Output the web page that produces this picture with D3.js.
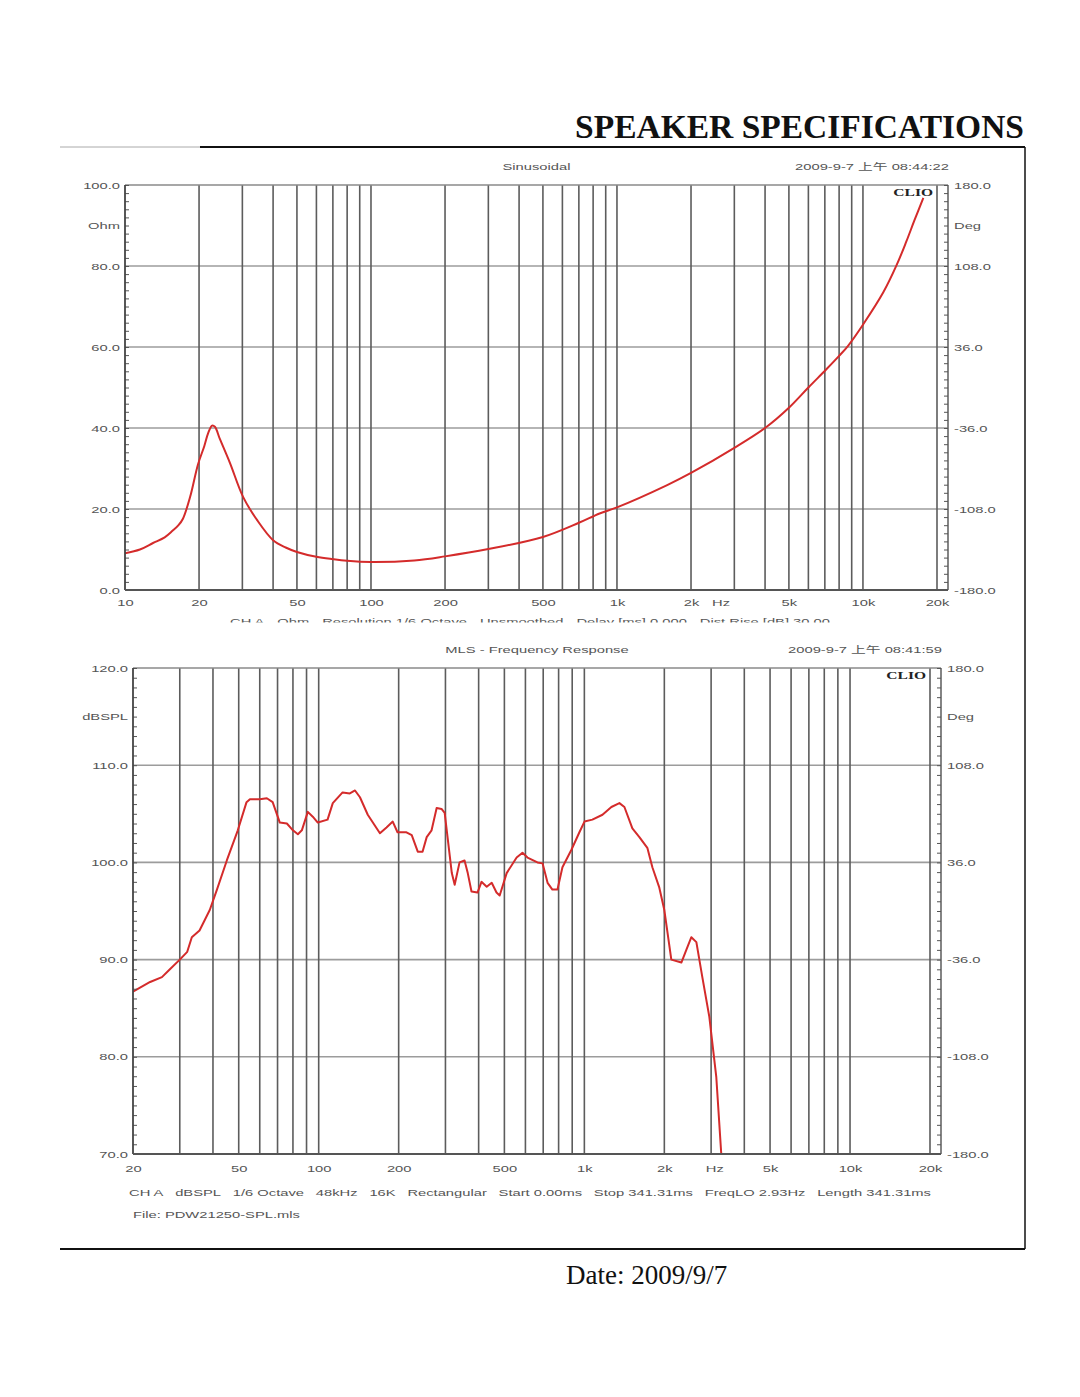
<!DOCTYPE html>
<html lang="en">
<head>
<meta charset="UTF-8">
<title>Speaker Specifications</title>
<style>
  body { margin: 0; background: #fff; }
  svg { display: block; }
  .lbl { font-family: 'Liberation Sans', Arial, 'Noto Sans CJK SC', sans-serif; font-size: 9.5px; fill: #555; }
  .serif { font-family: 'Liberation Serif', 'Times New Roman', serif; fill: #111; }
  .clio { font-family: 'Liberation Serif', serif; font-weight: bold; font-size: 10px; fill: #222; }
  .grid-v line { stroke: #5c5c5c; stroke-width: 1.6; }
  .grid-h line { stroke: #9c9c9c; stroke-width: 1.6; }
  .curve { fill: none; stroke: #d42b2b; stroke-width: 2; stroke-linejoin: round; }
</style>
</head>
<body>
<script src="https://d3js.org/d3.v7.min.js"></script>
<script>
// --- impedance (Sinusoidal) ---
const impFreq = [10, 11.5, 13, 14.5, 15.6, 16.5, 17.2, 18.4, 19.8, 21, 21.8, 22.6, 23.2, 24.3, 26.7, 30.2, 34.4, 40, 45, 50,
  60, 70, 80, 100, 150, 200, 300, 500, 700, 850, 1000, 1600, 2000, 3000, 4000, 5000, 6000, 7100, 8000, 8700, 10000,
  12100, 13700, 15000, 16200, 17600];
const impOhm = [9.1, 10.0, 11.6, 13.0, 14.6, 16.0, 17.6, 23, 31, 35.5, 38.8, 40.6, 40.3, 37.3, 31.4, 23.0, 17.3, 12.3, 10.5, 9.4,
  8.2, 7.6, 7.2, 6.9, 7.3, 8.3, 10.1, 13.1, 16.6, 18.9, 20.4, 25.9, 28.9, 35.1, 40.0, 45.0, 50.0, 54.5, 57.8, 60.3, 65.5,
  73.5, 80.2, 86.0, 91.3, 96.8];

// --- MLS frequency response ---
const splFreq = [20, 23.2, 25.7, 27.3, 30, 32, 33.3, 35.6, 38.9, 41.4, 45.1, 49.6, 53.5, 55.1, 60, 63.8, 67.1, 71.4, 75.9, 80,
  83.5, 86.4, 91, 95, 99.2, 108, 113, 123, 131, 137, 143, 153, 170, 180, 190, 198, 214, 224, 236, 246,
  255, 266, 278, 290, 298, 317, 325, 339, 354, 364, 376, 396, 410, 429, 448, 467, 480, 510, 556, 585,
  611, 666, 696, 727, 758, 792, 827, 894, 958, 1001, 1072, 1170, 1264, 1355, 1415, 1516, 1611, 1726, 1803, 1915,
  2000, 2125, 2318, 2420, 2528, 2640, 2780, 2954, 3138, 3276];
const splDb = [86.7, 87.7, 88.2, 88.9, 90.0, 90.8, 92.3, 93.0, 95.1, 97.2, 100.2, 103.3, 106.2, 106.5, 106.5, 106.6, 106.2, 104.1, 104.0, 103.3,
  102.9, 103.3, 105.2, 104.7, 104.1, 104.4, 106.1, 107.2, 107.1, 107.4, 106.7, 104.9, 103.0, 103.6, 104.2, 103.1, 103.1, 102.8, 101.1, 101.1,
  102.6, 103.3, 105.6, 105.5, 105.1, 98.9, 97.7, 100.0, 100.2, 98.9, 97.0, 96.9, 98.0, 97.5, 97.9, 96.9, 96.6, 98.9, 100.5, 101.0,
  100.5, 100.0, 99.9, 97.9, 97.2, 97.2, 99.5, 101.3, 103.1, 104.2, 104.4, 104.9, 105.7, 106.1, 105.7, 103.5, 102.6, 101.5, 99.5, 97.4,
  95.1, 90.0, 89.7, 91.0, 92.3, 91.8, 88.2, 84.1, 77.9, 70.0];

// --- tick labels ---
const impXTickFreq = [10, 20, 50, 100, 200, 500, 1000, 2000, 5000, 10000, 20000];
const impXTickText = ['10', '20', '50', '100', '200', '500', '1k', '2k', '5k', '10k', '20k'];
const splXTickFreq = [20, 50, 100, 200, 500, 1000, 2000, 5000, 10000, 20000];
const splXTickText = ['20', '50', '100', '200', '500', '1k', '2k', '5k', '10k', '20k'];
const impYTicks = [0, 20, 40, 60, 80, 100];
const splYTicks = [70, 80, 90, 100, 110, 120];
const degTicks = [-180, -108, -36, 36, 108, 180];

const impNotes = ['CH A', 'Ohm', 'Resolution 1/6 Octave', 'Unsmoothed', 'Delay [ms] 0.000', 'Dist Rise [dB] 30.00'];
const splNotes = ['CH A', 'dBSPL', '1/6 Octave', '48kHz', '16K', 'Rectangular', 'Start 0.00ms', 'Stop 341.31ms', 'FreqLO 2.93Hz', 'Length 341.31ms'];

const STRETCH = 1.55; // the scan is squeezed vertically, text looks wide
const fmt1 = d => d.toFixed(1);

const svg = d3.select('body').append('svg')
    .attr('width', 1080)
    .attr('height', 1397);

function widen(sel) {
    sel.each(function () {
        const w = this.getComputedTextLength();
        d3.select(this).attr('textLength', w * STRETCH).attr('lengthAdjust', 'spacingAndGlyphs');
    });
}

function spread(items, x0, x1, yy) {
    const t = svg.append('g').selectAll('text').data(items).join('text')
        .attr('class', 'lbl').attr('y', yy).text(d => d);
    widen(t);
    const ws = t.nodes().map(n => +n.getAttribute('textLength'));
    const gap = (x1 - x0 - d3.sum(ws)) / (items.length - 1);
    let cx = x0;
    t.attr('x', (d, i) => { const v = cx; cx += ws[i] + gap; return v; });
    return t;
}

// page frame
svg.append('line').attr('x1', 60).attr('x2', 200).attr('y1', 147).attr('y2', 147).attr('stroke', '#aaa').attr('stroke-width', 1);
svg.append('line').attr('x1', 200).attr('x2', 1025).attr('y1', 147).attr('y2', 147).attr('stroke', '#111').attr('stroke-width', 2);
svg.append('line').attr('x1', 1025).attr('x2', 1025).attr('y1', 147).attr('y2', 1249).attr('stroke', '#111').attr('stroke-width', 1.5);
svg.append('line').attr('x1', 60).attr('x2', 1025).attr('y1', 1249).attr('y2', 1249).attr('stroke', '#111').attr('stroke-width', 2);

svg.append('text').attr('class', 'serif')
    .attr('x', 1024).attr('y', 138)
    .attr('text-anchor', 'end')
    .style('font-size', '33.5px').style('font-weight', 'bold')
    .text('SPEAKER SPECIFICATIONS');

svg.append('text').attr('class', 'serif')
    .attr('x', 566).attr('y', 1284)
    .style('font-size', '27px')
    .text('Date: 2009/9/7');

function drawPanel(p) {
    const g = svg.append('g');
    const x = d3.scaleLog().domain(p.xDomain).range([p.left, p.x20k]);
    const y = d3.scaleLinear().domain(p.yDomain).range([p.bottom, p.top]);
    const yR = d3.scaleLinear().domain([-180, 180]).range([p.bottom, p.top]);

    // grid
    g.append('g').attr('class', 'grid-h')
        .selectAll('line').data(p.yGrid).join('line')
        .attr('x1', p.left).attr('x2', p.right)
        .attr('y1', d => y(d)).attr('y2', d => y(d));
    g.append('g').attr('class', 'grid-v')
        .selectAll('line').data(x.ticks().filter(d => d > p.xDomain[0])).join('line')
        .attr('x1', d => x(d)).attr('x2', d => x(d))
        .attr('y1', p.top).attr('y2', p.bottom);

    // frame top / right
    g.append('line').attr('x1', p.left).attr('x2', p.right).attr('y1', p.top).attr('y2', p.top)
        .attr('stroke', '#8a8a8a').attr('stroke-width', 1.6);
    g.append('line').attr('x1', p.right).attr('x2', p.right).attr('y1', p.top).attr('y2', p.bottom)
        .attr('stroke', '#666').attr('stroke-width', 1.6);

    // curve
    const clipId = 'clip' + p.id;
    svg.append('clipPath').attr('id', clipId).append('rect')
        .attr('x', p.left).attr('y', p.top).attr('width', p.right - p.left).attr('height', p.bottom - p.top);
    const pts = p.freq.map((f, i) => [f, p.vals[i]]);
    g.append('path').datum(pts)
        .attr('class', 'curve')
        .attr('clip-path', `url(#${clipId})`)
        .attr('d', d3.line().x(d => x(d[0])).y(d => y(d[1])).curve(p.curve));

    // minor ticks, left + right (inward)
    const minor = d3.range(p.yDomain[0], p.yDomain[1] + p.minorStep / 2, p.minorStep);
    const lTicks = g.append('g').attr('transform', `translate(${p.left},0)`)
        .call(d3.axisRight(y).tickValues(minor).tickSize(4).tickFormat(''));
    const rTicks = g.append('g').attr('transform', `translate(${p.right},0)`)
        .call(d3.axisLeft(y).tickValues(minor).tickSize(4).tickFormat(''));
    [lTicks, rTicks].forEach(a => {
        a.selectAll('.tick line').attr('stroke', '#555');
        a.select('.domain').attr('stroke', 'none');
    });
    g.append('line').attr('x1', p.left).attr('x2', p.left).attr('y1', p.top).attr('y2', p.bottom)
        .attr('stroke', '#444').attr('stroke-width', 1.8);

    // left labels
    const la = g.append('g').attr('transform', `translate(${p.left},0)`)
        .call(d3.axisLeft(y).tickValues(p.yTicks).tickSize(0).tickPadding(5).tickFormat(fmt1));
    la.select('.domain').remove();
    la.attr('font-size', null).attr('font-family', null);
    la.selectAll('text').attr('class', 'lbl');
    widen(la.selectAll('text'));
    g.append('text').attr('class', 'lbl').attr('x', p.left - 5).attr('y', y(p.unitAt)).attr('dy', '0.32em')
        .attr('text-anchor', 'end').text(p.unit).call(widen);

    // right labels
    const ra = g.append('g').attr('transform', `translate(${p.right},0)`)
        .call(d3.axisRight(yR).tickValues(degTicks).tickSize(0).tickPadding(6).tickFormat(fmt1));
    ra.select('.domain').remove();
    ra.attr('font-size', null).attr('font-family', null);
    ra.selectAll('text').attr('class', 'lbl');
    widen(ra.selectAll('text'));
    g.append('text').attr('class', 'lbl').attr('x', p.right + 6).attr('y', yR(144)).attr('dy', '0.32em')
        .text('Deg').call(widen);

    // bottom axis
    const ba = g.append('g').attr('transform', `translate(0,${p.bottom})`)
        .call(d3.axisBottom(x).tickValues(p.xTickFreq).tickSize(0).tickPadding(p.xPad)
            .tickFormat((d, i) => p.xTickText[i]));
    ba.select('.domain').remove();
    ba.attr('font-size', null).attr('font-family', null);
    ba.selectAll('text').attr('class', 'lbl');
    widen(ba.selectAll('text'));
    g.append('text').attr('class', 'lbl').attr('x', x(p.hzAt)).attr('y', p.bottom + p.xPad).attr('dy', '0.71em')
        .attr('text-anchor', 'middle').text('Hz').call(widen);
    g.append('line').attr('x1', p.left).attr('x2', p.right).attr('y1', p.bottom).attr('y2', p.bottom)
        .attr('stroke', '#555').attr('stroke-width', 2);

    // headers
    g.append('text').attr('class', 'lbl').attr('x', (p.left + p.right) / 2).attr('y', p.top - 15)
        .attr('text-anchor', 'middle').text(p.title).call(widen);
    g.append('text').attr('class', 'lbl').attr('x', p.right + 1).attr('y', p.top - 15)
        .attr('text-anchor', 'end').text(p.stamp).call(widen);
    g.append('text').attr('class', 'clio').attr('x', p.right - 15).attr('y', p.top + 10.5)
        .attr('text-anchor', 'end').text('CLIO').call(widen);
}

drawPanel({
    id: 'imp', left: 125, right: 948, top: 185, bottom: 590, x20k: 937,
    xDomain: [10, 20000], yDomain: [0, 100], yGrid: [20, 40, 60, 80], minorStep: 2,
    yTicks: impYTicks, unit: 'Ohm', unitAt: 90,
    xTickFreq: impXTickFreq, xTickText: impXTickText, xPad: 9, hzAt: 2650,
    freq: impFreq, vals: impOhm, curve: d3.curveCatmullRom.alpha(0.5),
    title: 'Sinusoidal', stamp: '2009-9-7 上午 08:44:22'
});

drawPanel({
    id: 'spl', left: 133, right: 941, top: 668, bottom: 1154, x20k: 930,
    xDomain: [20, 20000], yDomain: [70, 120], yGrid: [80, 90, 100, 110], minorStep: 1,
    yTicks: splYTicks, unit: 'dBSPL', unitAt: 115,
    xTickFreq: splXTickFreq, xTickText: splXTickText, xPad: 11, hzAt: 3100,
    freq: splFreq, vals: splDb, curve: d3.curveLinear,
    title: 'MLS - Frequency Response', stamp: '2009-9-7 上午 08:41:59'
});

// footnotes (top one is cut off in the scan)
svg.append('clipPath').attr('id', 'noteClip').append('rect')
    .attr('x', 0).attr('y', 600).attr('width', 1080).attr('height', 22.5);
spread(impNotes, 230, 830, 624.5).attr('clip-path', 'url(#noteClip)');
spread(splNotes, 129, 931, 1195.5);
svg.append('text').attr('class', 'lbl').attr('x', 133).attr('y', 1217.5)
    .text('File: PDW21250-SPL.mls').call(widen);
</script>
</body>
</html>
